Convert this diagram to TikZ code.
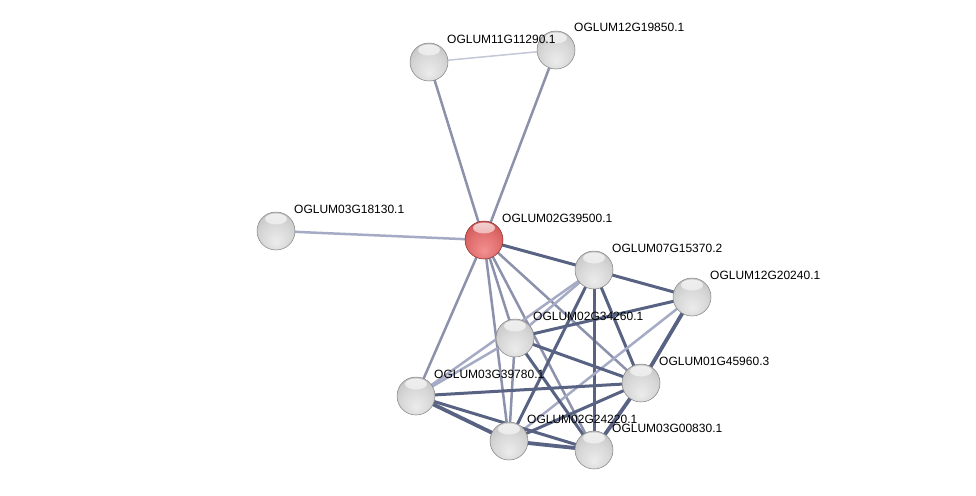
\documentclass[tikz,border=0pt]{standalone}
\usepackage{fontspec}
\setmainfont{Liberation Sans}
\usetikzlibrary{fadings}
\definecolor{edark}{RGB}{88,98,130}
\definecolor{emid}{RGB}{140,146,172}
\definecolor{elight}{RGB}{165,171,196}
\definecolor{evlight}{RGB}{195,199,215}
\definecolor{gA}{RGB}{236,236,236}
\definecolor{gB}{RGB}{215,215,215}
\definecolor{gC}{RGB}{190,190,190}
\definecolor{gD}{RGB}{125,125,125}
\definecolor{rA}{RGB}{242,145,145}
\definecolor{rB}{RGB}{225,110,110}
\definecolor{rC}{RGB}{200,78,78}
\definecolor{rD}{RGB}{145,38,38}
\definecolor{rEdge}{RGB}{140,40,40}
\pgfdeclareradialshading{sphgray}{\pgfpoint{0bp}{-15bp}}{%
  color(0bp)=(gA); color(20bp)=(gB); color(36bp)=(gC); color(48bp)=(gD); color(50bp)=(gD)}
\pgfdeclareradialshading{sphred}{\pgfpoint{0bp}{-15bp}}{%
  color(0bp)=(rA); color(20bp)=(rB); color(36bp)=(rC); color(48bp)=(rD); color(50bp)=(rD)}
\tikzset{
  sph/.style={circle, minimum size=38pt, inner sep=0pt, draw=#1, line width=0.5pt,
    path picture={\fill[white, path fading=south, fill opacity=0.75]
      ([yshift=-7pt]path picture bounding box.north) ellipse [x radius=11pt, y radius=5.5pt];}},
  prot/.style={sph=black!50, shading=sphgray},
  protred/.style={sph=rEdge, shading=sphred},
  lbl/.style={anchor=base west, inner sep=0pt, font=\fontsize{12}{13}\selectfont},
  ed/.style={edark, line width=3pt},
  edthick/.style={edark, line width=3.8pt},
  em/.style={emid, line width=2.5pt},
  el/.style={elight, line width=2.5pt},
  evl/.style={evlight, line width=1.5pt}
}
\begin{document}
\begin{tikzpicture}[x=1pt,y=-1pt]
\useasboundingbox[fill=white] (0,0) rectangle (976,495);
% node centres
\coordinate (p11) at (429,62);
\coordinate (p12a) at (556,50);
\coordinate (p03a) at (276,231);
\coordinate (pR) at (484,240);
\coordinate (pA) at (594,270);
\coordinate (pB) at (692,297);
\coordinate (pC) at (515,338);
\coordinate (pD) at (641,383);
\coordinate (pE) at (416,396);
\coordinate (pF) at (509,441);
\coordinate (pG) at (594,450);
% edges
\draw[evl] (p11) -- (p12a);
\draw[em] (pR) -- (p11);
\draw[em] (pR) -- (p12a);
\draw[el] (pR) -- (p03a);
\draw[em] (pR) -- (pE);
\draw[em] (pR) -- (pF);
\draw[em] (pR) -- (pC);
\draw[em] (pR) -- (pG);
\draw[em] (pR) -- (pD);
\draw[ed] (pR) -- (pA);
\draw[ed] (pA) -- (pB);
\draw[el] (pA) -- (pC);
\draw[el] (pA) -- (pE);
\draw[ed] (pA) -- (pF);
\draw[ed] (pA) -- (pG);
\draw[ed] (pA) -- (pD);
\draw[ed] (pB) -- (pC);
\draw[edthick] (pB) -- (pD);
\draw[el] (pB) -- (pF);
\draw[ed] (pC) -- (pD);
\draw[el] (pC) -- (pE);
\draw[em] (pC) -- (pF);
\draw[ed] (pC) -- (pG);
\draw[ed] (pD) -- (pE);
\draw[ed] (pD) -- (pF);
\draw[edthick] (pD) -- (pG);
\draw[edthick] (pE) -- (pF);
\draw[ed] (pE) -- (pG);
\draw[edthick] (pF) -- (pG);
% nodes
\node[prot] (n11) at (p11) {};
\node[prot] (n12a) at (p12a) {};
\node[prot] (n03a) at (p03a) {};
\node[protred] (nR) at (pR) {};
\node[prot] (nA) at (pA) {};
\node[prot] (nB) at (pB) {};
\node[prot] (nC) at (pC) {};
\node[prot] (nD) at (pD) {};
\node[prot] (nE) at (pE) {};
\node[prot] (nF) at (pF) {};
\node[prot] (nG) at (pG) {};
% labels
\node[lbl] (l11) at ([shift={(18,-18)}]p11) {OGLUM11G11290.1};
\node[lbl] (l12a) at ([shift={(18,-18)}]p12a) {OGLUM12G19850.1};
\node[lbl] (l03a) at ([shift={(18,-18)}]p03a) {OGLUM03G18130.1};
\node[lbl] (lR) at ([shift={(18,-18)}]pR) {OGLUM02G39500.1};
\node[lbl] (lA) at ([shift={(18,-18)}]pA) {OGLUM07G15370.2};
\node[lbl] (lB) at ([shift={(18,-18)}]pB) {OGLUM12G20240.1};
\node[lbl] (lC) at ([shift={(18,-18)}]pC) {OGLUM02G34260.1};
\node[lbl] (lD) at ([shift={(18,-18)}]pD) {OGLUM01G45960.3};
\node[lbl] (lE) at ([shift={(18,-18)}]pE) {OGLUM03G39780.1};
\node[lbl] (lF) at ([shift={(18,-18)}]pF) {OGLUM02G24220.1};
\node[lbl] (lG) at ([shift={(18,-18)}]pG) {OGLUM03G00830.1};
\end{tikzpicture}
\end{document}
